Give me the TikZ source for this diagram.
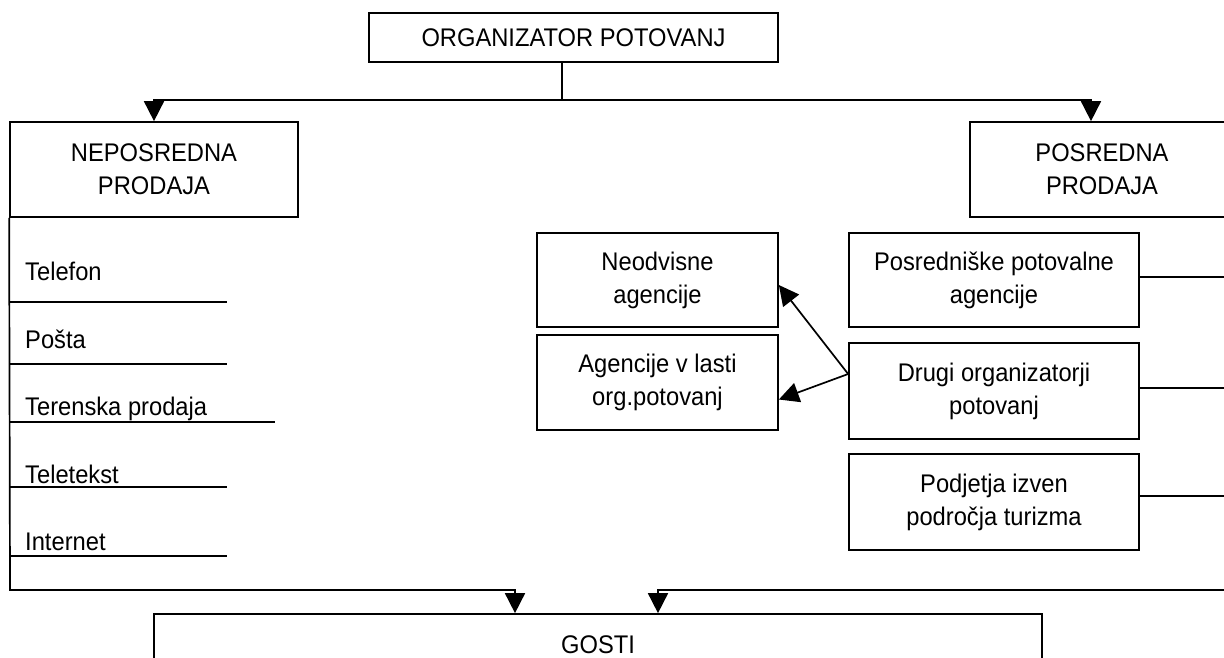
\documentclass[tikz,border=0pt]{standalone}
\usepackage{fontspec}
\setmainfont{Liberation Sans}[FakeStretch=0.93]
\usetikzlibrary{arrows.meta}
\begin{document}
\begin{tikzpicture}[x=1pt,y=-1pt,
  box/.style={draw,line width=1.7pt,rectangle,inner sep=0pt,align=center,font=\fontsize{25.5}{33}\selectfont},
  conn/.style={line width=1.7pt},
  arr/.style={conn,-{Triangle[width=20pt,length=20pt]}},
  item/.style={anchor=base west,inner sep=0pt,font=\fontsize{25.5}{33}\selectfont}]
\useasboundingbox (0,0) rectangle (1224,657);
% boxes
\node[box,minimum width=409pt,minimum height=49pt] (top) at (573.5,37.5) {ORGANIZATOR POTOVANJ};
\node[box,minimum width=288pt,minimum height=95pt] (nep) at (154,169.5) {NEPOSREDNA\\PRODAJA};
\node[box,minimum width=264pt,minimum height=95pt] (pos) at (1102,169.5) {POSREDNA\\PRODAJA};
\node[box,minimum width=241pt,minimum height=94pt] (neo) at (657.5,280) {Neodvisne\\agencije};
\node[box,minimum width=241pt,minimum height=95pt] (agl) at (657.5,382.5) {Agencije v lasti\\org.potovanj};
\node[box,minimum width=290pt,minimum height=94pt] (psk) at (994,280) {Posredniške potovalne\\agencije};
\node[box,minimum width=290pt,minimum height=96pt] (dru) at (994,391) {Drugi organizatorji\\potovanj};
\node[box,minimum width=290pt,minimum height=96pt] (pod) at (994,502) {Podjetja izven\\področja turizma};
\node[box,minimum width=888pt,minimum height=62pt] (gosti) at (598,645) {GOSTI};
% top distribution
\coordinate (hub) at (562,100);
\draw[conn] ([xshift=-11.5pt]top.south) -- (hub);
\draw[arr] (hub) -| (nep.north);
\draw[arr] (hub) -| ([xshift=-11pt]pos.north);
% direct sales list
\node[item] (tel) at (25,280) {Telefon};
\node[item] (pst) at (25,348) {Pošta};
\node[item] (ter) at (25,415) {Terenska prodaja};
\node[item] (ttx) at (25,483) {Teletekst};
\node[item] (int) at (25,550) {Internet};
\draw[conn] (10,302) -- (227,302);
\draw[conn] (10,364) -- (227,364);
\draw[conn] (10,422) -- (275,422);
\draw[conn] (10,487) -- (227,487);
\draw[conn] (10,556) -- (227,556);
\coordinate (lc) at (10,590);
\draw[arr] (nep.south west) -- (lc) -| ([xshift=-83pt]gosti.north);
% indirect sales
\coordinate (rc) at (1240,590);
\draw[conn] ([yshift=3pt]psk.east) -- ++(101,0) -- (rc);
\draw[conn] ([yshift=3pt]dru.east) -- ++(101,0);
\draw[conn] ([yshift=6pt]pod.east) -- ++(101,0);
\draw[arr] (rc) -| ([xshift=60pt]gosti.north);
% other organizers
\draw[arr] ([yshift=17pt]dru.west) -- ([yshift=-5pt]neo.east);
\draw[arr] ([yshift=17pt]dru.west) -- ([yshift=-17pt]agl.east);
\end{tikzpicture}
\end{document}
